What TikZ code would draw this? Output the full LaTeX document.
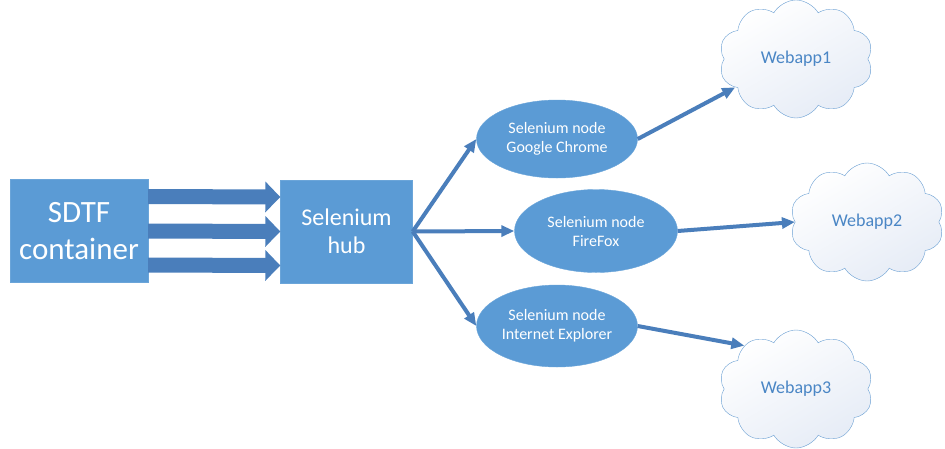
\documentclass[tikz,border=0pt]{standalone}
\usepackage{fontspec}
\setmainfont{Carlito}
\usepackage{tikz}
\usetikzlibrary{shapes.geometric, shapes.symbols, arrows.meta}
\definecolor{boxblue}{HTML}{5B9BD5}
\definecolor{arrowblue}{HTML}{4A7EBB}
\definecolor{cloudline}{HTML}{6A9FD3}
\definecolor{cloudtext}{HTML}{4A86C5}
\definecolor{cloudfill}{HTML}{E6ECF6}

\begin{document}
\begin{tikzpicture}[x=1pt,y=-1pt]
    \tikzstyle{main box}=[rectangle,fill=boxblue,draw=boxblue!90!white,inner sep=0,text=white,align=center]
    \tikzstyle{browser node}=[ellipse,fill=boxblue,draw=boxblue!90!white,inner sep=0,text=white,align=center,
        font=\fontsize{16}{19}\selectfont]
    \tikzstyle{webapp}=[cloud,cloud puffs=10,cloud puff arc=120,cloud ignores aspect,draw=cloudline,thin,
        top color=white,bottom color=cloudfill,shading angle=30,inner sep=0,text=cloudtext,
        font=\fontsize{18}{21}\selectfont,minimum width=154,minimum height=118]
    \tikzstyle{block arrow}=[draw=arrowblue,line width=15pt,-{Triangle[width=30pt,length=15pt]}]
    \tikzstyle{thin arrow}=[draw=arrowblue,line width=4pt,-{Triangle[width=11pt,length=13pt]}]

    \useasboundingbox (0,0) rectangle (945,448);

    \node(sdtf)[main box,minimum width=138,minimum height=103,font=\fontsize{31}{37}\selectfont]
        at (79,231) {SDTF\\container};
    \node(hub)[main box,minimum width=132,minimum height=103,font=\fontsize{24}{28}\selectfont]
        at (346.5,231.5) {Selenium\\hub};

    \node(chrome)[browser node,minimum width=161,minimum height=78] at (557,139) {Selenium node\\Google Chrome};
    \node(firefox)[browser node,minimum width=163,minimum height=83] at (596,231) {Selenium node\\FireFox};
    \node(ie)[browser node,minimum width=161,minimum height=82] at (557,326) {Selenium node\\Internet Explorer};

    \node(app1)[webapp] at (796,59) {Webapp1};
    \node(app2)[webapp] at (867,222) {Webapp2};
    \node(app3)[webapp] at (796,389) {Webapp3};

    \draw[block arrow] ([yshift=34.5pt]sdtf.east) -- ([yshift=34.5pt]hub.west);
    \draw[block arrow] (sdtf.east) -- (hub.west);
    \draw[block arrow] ([yshift=-34pt]sdtf.east) -- ([yshift=-34pt]hub.west);

    \draw[thin arrow] (hub.east) -- (chrome.west);
    \draw[thin arrow] (hub.east) -- (firefox.west);
    \draw[thin arrow] (hub.east) -- (ie.west);

    \draw[thin arrow] (chrome.east) -- (app1.205);
    \draw[thin arrow] (firefox.east) -- (app2.west);
    \draw[thin arrow] (ie.east) -- (app3.140);
\end{tikzpicture}
\end{document}
